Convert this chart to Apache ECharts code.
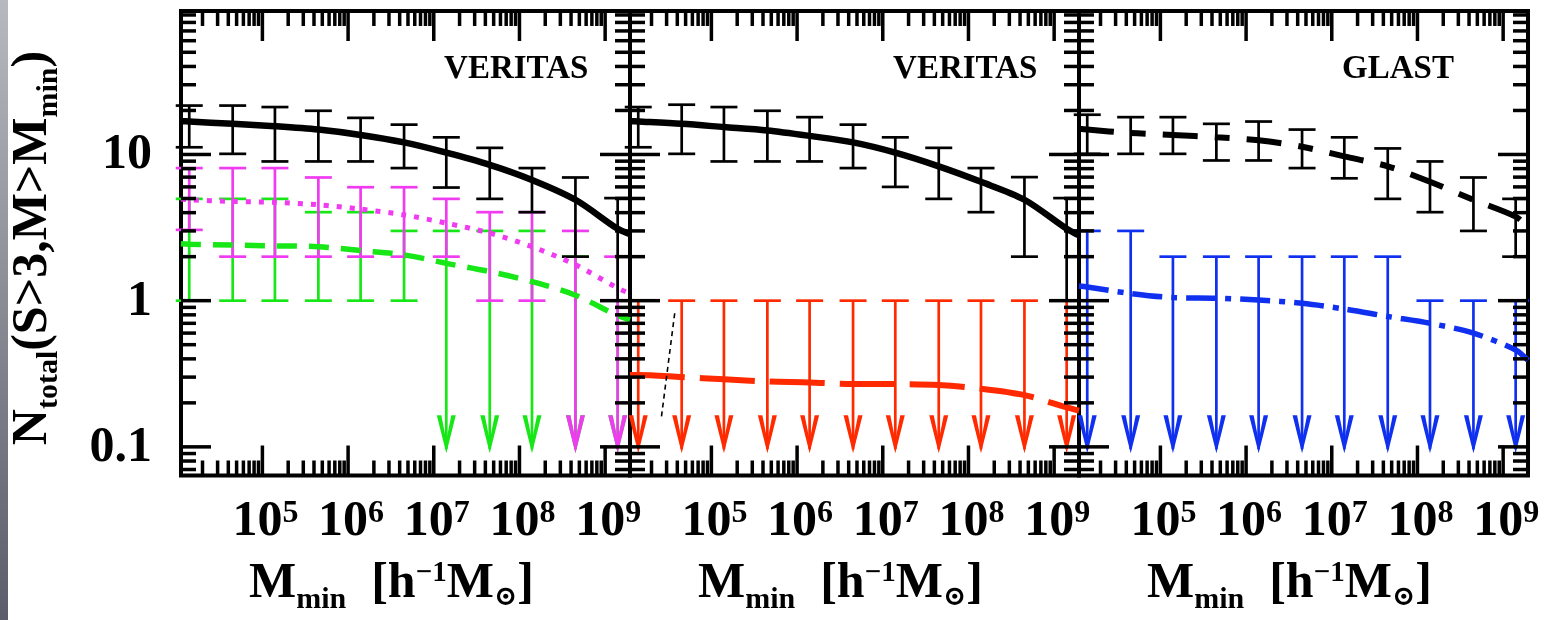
<!DOCTYPE html>
<html><head><meta charset="utf-8">
<script src="https://cdn.jsdelivr.net/npm/echarts@6/dist/echarts.min.js"></script>
<style>html,body{margin:0;padding:0;background:#fff}#c{width:1546px;height:620px}</style>
</head><body><div id="c"></div>
<script>
// ---------------- data ----------------
const massBins = [1.4e4, 4.5e4, 1.4e5, 4.5e5, 1.4e6, 4.5e6, 1.4e7, 4.5e7, 1.4e8, 4.5e8, 1.4e9];
const curveMass = [1.12e4, 1.4e4, 4.5e4, 1.4e5, 4.5e5, 1.4e6, 4.5e6, 1.4e7, 4.5e7, 1.4e8, 4.5e8, 1.4e9, 1.95e9];

// panel 1 (VERITAS)
const p1BlackCurve   = [16.9, 16.8, 16.2, 15.6, 14.8, 13.6, 12.1, 10.3, 8.5, 6.7, 4.9, 3.1, 2.85];
const p1BlackHi      = [21.6, 21.6, 21.1, 19.9, 17.8, 16.0, 13.1, 11.1, 8.07, 6.96, 5.03];
const p1BlackLo      = [11.2, 10.1, 8.96, 8.96, 8.96, 8.07, 5.94, 4.97, 4.03, 2.0, 1.0];
const p1MagentaCurve = [4.95, 4.9, 4.77, 4.7, 4.53, 4.23, 3.86, 3.39, 2.9, 2.34, 1.76, 1.22, 1.12];
const p1MagentaHi    = [8.07, 8.07, 8.07, 6.96, 5.97, 5.97, 4.97, 4.03, 4.03, 3.0, 2.0];
const p1MagentaLo    = [3.05, 2.0, 2.0, 2.0, 2.0, 2.0, 2.0, 1.0, 1.0, 0, 0];   // 0 = upper limit
const p1GreenCurve   = [2.45, 2.43, 2.4, 2.37, 2.34, 2.2, 2.06, 1.8, 1.58, 1.35, 1.09, 0.79, 0.74];
const p1GreenHi      = [4.97, 4.97, 4.97, 4.03, 4.03, 3.0, 3.0, 3.0, 3.0, 2.0, 1.0];
const p1GreenLo      = [1.0, 1.0, 1.0, 1.0, 1.0, 1.0, 0, 0, 0, 0, 0];

// panel 2 (VERITAS)
const p2BlackCurve   = [16.9, 16.8, 16.2, 15.4, 14.6, 13.4, 12.1, 10.3, 8.3, 6.5, 4.9, 3.1, 2.8];
const p2BlackHi      = [21.1, 21.9, 21.1, 19.9, 18.0, 16.0, 13.1, 11.1, 8.07, 7.0, 5.03];
const p2BlackLo      = [11.2, 10.1, 8.96, 8.96, 8.96, 8.07, 6.0, 4.97, 4.03, 2.0, 1.0];
const p2RedCurve     = [0.31, 0.31, 0.30, 0.29, 0.28, 0.276, 0.269, 0.269, 0.265, 0.25, 0.226, 0.186, 0.177];
const p2RedHi        = [1, 1, 1, 1, 1, 1, 1, 1, 1, 1, 1];
const p2ThinLine     = [[3.73e4, 0.82], [2.61e4, 0.16]];

// panel 3 (GLAST)
const p3BlackCurve   = [15.0, 14.8, 14.0, 13.6, 13.1, 12.5, 11.3, 9.7, 8.3, 6.5, 4.9, 3.76, 3.2];
const p3BlackHi      = [18.7, 18.0, 18.0, 16.2, 16.8, 14.8, 13.1, 11.0, 8.96, 6.96, 4.97];
const p3BlackLo      = [10.1, 10.1, 10.1, 9.1, 9.1, 8.07, 6.87, 4.97, 4.03, 3.0, 2.0];
const p3BlueCurve    = [1.26, 1.24, 1.12, 1.05, 1.04, 1.01, 0.96, 0.877, 0.78, 0.70, 0.60, 0.46, 0.39];
const p3BlueHi       = [3, 3, 2, 2, 2, 2, 2, 2, 1, 1, 1];

const panelLabels  = ['VERITAS', 'VERITAS', 'GLAST'];
const panelLabelAt = [1.32e7, 38];
const xTickValues  = [1e5, 1e6, 1e7, 1e8, 1e9];
const xTickBase    = '10';
const xTickExps    = ['5', '6', '7', '8', '9'];
const yTickValues  = [0.1, 1, 10];
const yTickLabels  = ['0.1', '1', '10'];
const xTitle = '{m|M}{s|min}{m|  [h}{p|\u22121}{m|M}{o|\u2299}{m|]}';
const yTitle = '{m|N}{s|total}{m|(S>3,M>M}{s|min}{m|)}';

const X_MIN = 1.122e4, X_MAX = 1.95e9, Y_MIN = 0.0637, Y_MAX = 95.8;
const ARROW_TIP = 0.0906;

// ---------------- styling ----------------
const FONT = '"Liberation Serif", "DejaVu Serif", serif';
const C_BLACK = '#000000', C_MAG = '#f03cf0', C_GREEN = '#17e617', C_RED = '#ff2a00', C_BLUE = '#1030f0';
const gridLefts = [181, 630, 1079];
const GRID_W = 449, GRID_TOP = 11, GRID_H = 464.5;

function errRender(color) {
  return function (params, api) {
    const x = api.value(0), hi = api.value(1), lo = api.value(2);
    const pHi = api.coord([x, hi]);
    const cw = 13.5;
    const st = { stroke: color, lineWidth: 2.7 };
    const ch = [{ type: 'line', shape: { x1: pHi[0] - cw, y1: pHi[1], x2: pHi[0] + cw, y2: pHi[1] }, style: st }];
    if (lo > 0) {
      const pLo = api.coord([x, lo]);
      ch.push({ type: 'line', shape: { x1: pHi[0], y1: pHi[1], x2: pLo[0], y2: pLo[1] }, style: st });
      ch.push({ type: 'line', shape: { x1: pLo[0] - cw, y1: pLo[1], x2: pLo[0] + cw, y2: pLo[1] }, style: st });
    } else {
      const pT = api.coord([x, ARROW_TIP]);
      const tx = pT[0], ty = pT[1];
      ch.push({ type: 'line', shape: { x1: pHi[0], y1: pHi[1], x2: tx, y2: ty - 4 }, style: st });
      ch.push({ type: 'polygon', shape: { points: [[tx, ty], [tx - 9.5, ty - 38], [tx - 5, ty - 38], [tx, ty - 13], [tx + 5, ty - 38], [tx + 9.5, ty - 38]] }, style: { fill: color } });
    }
    return { type: 'group', children: ch };
  };
}

function tickRender(params, api) {
  const cs = params.coordSys;
  const kind = api.value(2);
  const st = { stroke: '#000', lineWidth: 3.5 };
  const ch = [];
  if (kind < 2) {
    const px = api.coord([api.value(0), 1])[0];
    const L = kind === 1 ? 30 : 15;
    const b = cs.y + cs.height, t = cs.y;
    ch.push({ type: 'line', shape: { x1: px, y1: b, x2: px, y2: b - L }, style: st });
    ch.push({ type: 'line', shape: { x1: px, y1: t, x2: px, y2: t + L }, style: st });
  } else {
    const py = api.coord([1e6, api.value(1)])[1];
    const L = kind === 3 ? 30 : 15;
    const l = cs.x, r = cs.x + cs.width;
    ch.push({ type: 'line', shape: { x1: l, y1: py, x2: l + L, y2: py }, style: st });
    ch.push({ type: 'line', shape: { x1: r, y1: py, x2: r - L, y2: py }, style: st });
  }
  return { type: 'group', children: ch };
}

// tick positions (decoration)
const tickData = [];
for (let k = 4; k <= 9; k++) for (let m = 1; m <= 9; m++) {
  const v = m * Math.pow(10, k);
  if (v >= X_MIN && v <= X_MAX) tickData.push([v, 1, m === 1 ? 1 : 0]);
}
for (let k = -2; k <= 1; k++) for (let m = 1; m <= 9; m++) {
  const v = m * Math.pow(10, k);
  if (v >= Y_MIN && v <= Y_MAX) tickData.push([1e6, v, m === 1 ? 3 : 2]);
}

const richBase = { fontFamily: FONT, fontWeight: 'bold', fill: '#000' };
function xLabelRender(params, api) {
  const cs = params.coordSys;
  const i = api.value(2);
  const px = api.coord([api.value(0), 1])[0];
  return {
    type: 'text', x: px + 3, y: cs.y + cs.height + 22,
    style: {
      text: '{b|' + xTickBase + '}{e|' + xTickExps[i] + '}',
      align: 'center', verticalAlign: 'top',
      rich: {
        b: Object.assign({ fontSize: 50, lineHeight: 50, verticalAlign: 'top' }, richBase),
        e: Object.assign({ fontSize: 32, lineHeight: 33, verticalAlign: 'top' }, richBase)
      }
    }
  };
}
function yLabelRender(params, api) {
  const cs = params.coordSys;
  const i = api.value(2);
  const py = api.coord([1e6, api.value(1)])[1];
  return {
    type: 'text', x: cs.x - 29, y: py + 1,
    style: { text: yTickLabels[i], align: 'right', verticalAlign: 'middle', font: 'bold 50px ' + FONT, fill: '#000' }
  };
}
function panelLabelRender(params, api) {
  const p = api.coord([api.value(0), api.value(1)]);
  return {
    type: 'text', x: p[0], y: p[1],
    style: { text: panelLabels[params.seriesIndex === undefined ? 0 : api.value(2)], align: 'left', verticalAlign: 'middle', font: 'bold 33px ' + FONT, fill: '#000' }
  };
}

function lineSeries(gi, values, color, width, dash, z) {
  return { type: 'line', xAxisIndex: gi, yAxisIndex: gi, data: curveMass.map((m, i) => [m, values[i]]),
    symbol: 'none', smooth: 0.3, lineStyle: { color: color, width: width, type: dash || 'solid', cap: 'butt' },
    z: z || 3, silent: true, animation: false };
}
function errSeries(gi, hi, lo, color, z) {
  return { type: 'custom', xAxisIndex: gi, yAxisIndex: gi, encode: { x: 0, y: 1 },
    data: massBins.map((m, i) => [m, hi[i], lo ? lo[i] : 0]),
    renderItem: errRender(color), z: z || 2, silent: true, animation: false };
}

const series = [];
// panel 1
series.push(errSeries(0, p1GreenHi, p1GreenLo, C_GREEN, 2));
series.push(errSeries(0, p1MagentaHi, p1MagentaLo, C_MAG, 2));
series.push(errSeries(0, p1BlackHi, p1BlackLo, C_BLACK, 2));
series.push(lineSeries(0, p1GreenCurve, C_GREEN, 5.5, [20, 12], 3));
series.push(lineSeries(0, p1MagentaCurve, C_MAG, 5, [5, 8], 3));
series.push(lineSeries(0, p1BlackCurve, C_BLACK, 6.5, 'solid', 3));
// panel 2
series.push(errSeries(1, p2BlackHi, p2BlackLo, C_BLACK, 2));
series.push(errSeries(1, p2RedHi, null, C_RED, 2));
series.push(lineSeries(1, p2RedCurve, C_RED, 6, [55, 15], 3));
series.push(lineSeries(1, p2BlackCurve, C_BLACK, 6.5, 'solid', 3));
series.push({ type: 'line', xAxisIndex: 1, yAxisIndex: 1, data: p2ThinLine, symbol: 'none',
  lineStyle: { color: '#000', width: 1.6, type: [5, 4] }, z: 3, silent: true, animation: false });
// panel 3
series.push(errSeries(2, p3BlackHi, p3BlackLo, C_BLACK, 2));
series.push(errSeries(2, p3BlueHi, null, C_BLUE, 2));
series.push(lineSeries(2, p3BlueCurve, C_BLUE, 5.5, [30, 9, 6, 9], 3));
series.push(lineSeries(2, p3BlackCurve, C_BLACK, 6, [35, 17, 15, 17], 3));

for (let g = 0; g < 3; g++) {
  series.push({ type: 'custom', xAxisIndex: g, yAxisIndex: g, encode: { x: 0, y: 1 }, data: tickData,
    renderItem: tickRender, z: 5, silent: true, animation: false });
  series.push({ type: 'custom', xAxisIndex: g, yAxisIndex: g, encode: { x: 0, y: 1 },
    data: xTickValues.map((v, i) => [v, 1, i]), renderItem: xLabelRender, z: 5, silent: true, animation: false, clip: false });
  series.push({ type: 'custom', xAxisIndex: g, yAxisIndex: g, encode: { x: 0, y: 1 },
    data: [[panelLabelAt[0], panelLabelAt[1], g]], renderItem: panelLabelRender, z: 5, silent: true, animation: false });
}
series.push({ type: 'custom', xAxisIndex: 0, yAxisIndex: 0, encode: { x: 0, y: 1 },
  data: yTickValues.map((v, i) => [1e6, v, i]), renderItem: yLabelRender, z: 5, silent: true, animation: false, clip: false });

const richTitle = {
  m: Object.assign({ fontSize: 50, lineHeight: 50, verticalAlign: 'top' }, richBase),
  s: Object.assign({ fontSize: 30, lineHeight: 50, verticalAlign: 'top', padding: [26, 0, 0, 0] }, richBase),
  p: Object.assign({ fontSize: 29, lineHeight: 19, verticalAlign: 'top' }, richBase),
  o: Object.assign({ fontSize: 28, lineHeight: 50, verticalAlign: 'top', padding: [25, 0, 0, 0] }, richBase)
};

const graphics = [
  { type: 'rect', left: 0, top: 0, shape: { width: 8, height: 620 }, silent: true,
    style: { fill: new echarts.graphic.LinearGradient(0, 0, 0, 1, [{ offset: 0, color: '#b8b8c0' }, { offset: 1, color: '#5c5c6a' }]) } },
  { type: 'text', x: 8, y: 248, rotation: Math.PI / 2, silent: true,
    style: { text: yTitle, align: 'center', verticalAlign: 'top', rich: richTitle } }
];
gridLefts.forEach(l => {
  graphics.push({ type: 'text', x: l + GRID_W / 2 - 14, y: 559, silent: true,
    style: { text: xTitle, align: 'center', verticalAlign: 'top', rich: richTitle } });
});

const option = {
  animation: false,
  backgroundColor: '#ffffff',
  grid: gridLefts.map(l => ({ left: l, width: GRID_W, top: GRID_TOP, height: GRID_H, show: true,
    borderColor: '#000', borderWidth: 4, backgroundColor: 'transparent', containLabel: false })),
  xAxis: gridLefts.map((_, i) => ({ type: 'log', gridIndex: i, min: X_MIN, max: X_MAX,
    axisLine: { show: false }, axisTick: { show: false }, axisLabel: { show: false }, splitLine: { show: false } })),
  yAxis: gridLefts.map((_, i) => ({ type: 'log', gridIndex: i, min: Y_MIN, max: Y_MAX,
    axisLine: { show: false }, axisTick: { show: false }, axisLabel: { show: false }, splitLine: { show: false } })),
  graphic: graphics,
  series: series
};

const chart = echarts.init(document.getElementById('c'), null, { renderer: 'canvas' });
chart.setOption(option);
</script>
</body></html>
